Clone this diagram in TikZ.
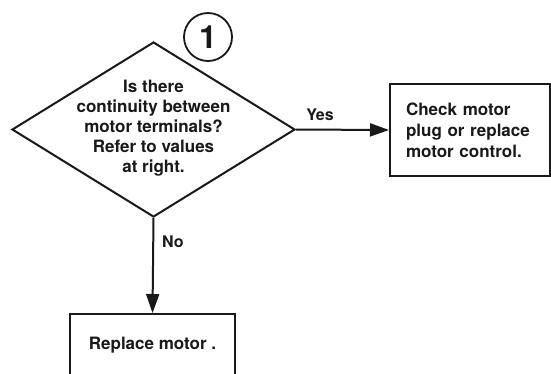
\documentclass[tikz,border=0pt]{standalone}
\usepackage{fontspec}
\setmainfont{TeX Gyre Heros}
\usetikzlibrary{shapes.geometric,arrows.meta}
\tikzset{
  every node/.style={font=\fontsize{17}{20}\selectfont\bfseries, text=black!90},
  flow/.style={line width=2pt, draw=black!90, -{Triangle[length=19pt,width=13pt]}},
  dia/.style={diamond, draw=black!90, line width=2pt, minimum width=283pt, minimum height=175pt, inner sep=0pt},
  qtext/.style={align=center, inner sep=0pt},
  actbox/.style={rectangle, draw=black!90, line width=2pt, inner sep=0pt},
  lbl/.style={font=\fontsize{16}{19}\selectfont\bfseries, inner sep=0pt},
  numcircle/.style={circle, draw=black!90, line width=1.8pt, minimum size=48pt, inner sep=0pt, font=\fontsize{32}{32}\selectfont\bfseries}
}
\begin{document}
\begin{tikzpicture}[x=1pt,y=-1pt]
\clip (0,0) rectangle (551,373);
\fill[white] (0,0) rectangle (551,373);
\node[dia] (q) at (153.5,129.5) {};
\node[qtext, font=\fontsize{17}{20}\selectfont\bfseries] (qt) at (153.5,128) {Is there\\continuity between\\motor terminals?\\Refer to values\\at right.};
\node[numcircle] (n1) at (208,37) {1};
\node[actbox, minimum width=160pt, minimum height=92pt, text width=128pt, align=left, font=\fontsize{17}{21}\selectfont\bfseries] (chk) at (470,130) {Check motor\\plug or replace\\motor control.};
\node[actbox, minimum width=165pt, minimum height=62pt] (rep) at (152.5,345) {Replace motor .};
\draw[flow] (q.east) -- (chk.west);
\draw[flow] (q.south) -- (rep.north);
\node[lbl] (yes) at (320,115) {Yes};
\node[lbl, anchor=west] (no) at (162,242) {No};
\end{tikzpicture}
\end{document}
